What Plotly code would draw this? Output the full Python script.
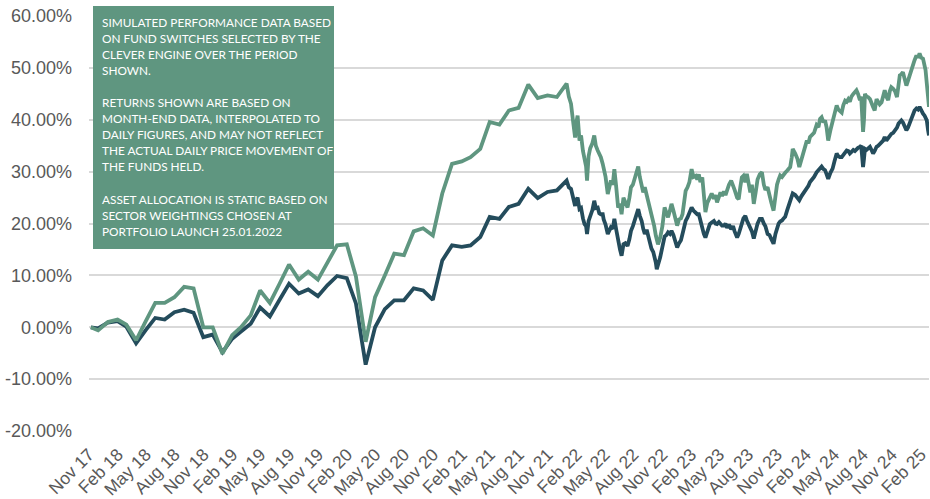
import pandas as pd
import plotly.graph_objects as go

# ---------------- data ----------------
start_date = "2017-11-07"
start_value = 0.0

# month-end values, Nov 2017 .. Dec 2021 (percent)
month_ends = pd.date_range("2017-11-30", "2021-12-31", freq="ME")
green_monthly = [
    -0.6, 1.0, 1.5, 0.5, -2.5, 1.1, 4.7, 4.7, 5.8, 7.8, 7.5, 0.0,
    0.0, -5.1, -1.5, 0.0, 2.3, 7.1, 4.7, 8.3, 12.1, 9.2, 10.7, 9.2,
    12.6, 15.8, 16.0, 9.8, -2.8, 5.8, 10.0, 14.2, 13.9, 18.5, 19.1, 17.7,
    25.8, 31.5, 32.0, 32.8, 34.4, 39.6, 39.1, 41.8, 42.3, 46.8, 44.2, 44.7,
    44.4, 47.0,
]
dark_monthly = [
    -0.2, 0.9, 1.2, 0.1, -3.1, -0.6, 1.8, 1.5, 2.9, 3.4, 2.8, -1.9,
    -1.4, -4.8, -2.2, -0.8, 0.7, 3.8, 2.1, 5.2, 8.4, 6.5, 7.3, 6.0,
    8.1, 9.9, 9.5, 4.6, -7.2, 0.0, 3.5, 5.2, 5.2, 7.5, 7.1, 5.3,
    12.9, 15.8, 15.5, 15.8, 17.4, 21.3, 20.9, 23.2, 23.8, 26.7, 24.9, 26.1,
    26.4, 28.3,
]

# daily-interpolated period: days after 2021-12-31
daily_base = "2021-12-31"
daily_days = [
    7, 14, 20, 27, 31, 35, 41, 46, 52, 57, 62, 65, 70, 75, 82, 88, 93, 99, 104, 109,
    115, 118, 124, 131, 136, 141, 147, 152, 158, 164, 170, 175, 181, 187, 194, 200, 205, 211, 217, 222,
    228, 233, 239, 244, 249, 255, 263, 270, 276, 279, 284, 287, 291, 298, 305, 312, 318, 323, 329, 334,
    340, 346, 352, 358, 364, 369, 374, 379, 385, 391, 398, 404, 411, 416, 421, 426, 432, 437, 442, 448,
    456, 462, 469, 474, 479, 485, 490, 495, 501, 506, 511, 517, 524, 530, 535, 543, 548, 553, 558, 563,
    569, 574, 580, 585, 590, 596, 602, 608, 615, 622, 628, 633, 640, 646, 652, 659, 665, 670, 675, 680,
    686, 691, 696, 702, 707, 712, 717, 720, 728, 735, 741, 748, 754, 760, 765, 770, 775, 780, 788, 796,
    802, 807, 812, 818, 823, 828, 833, 840, 847, 853, 860, 865, 870, 876, 881, 887, 892, 897, 902, 907,
    913, 918, 923, 928, 934, 938, 941, 944, 947, 950, 955, 960, 966, 971, 976, 981, 987, 992, 997, 1003,
    1008, 1013, 1018, 1024, 1029, 1034, 1040, 1046, 1052, 1057, 1061, 1066, 1071, 1076, 1082, 1087, 1092, 1098, 1103, 1108,
    1114, 1119, 1124, 1129, 1135, 1140, 1143, 1147, 1151, 1154,
]
green_daily = [
    44.5, 43.1, 40.0, 36.6, 39.5, 40.8, 36.0, 37.0, 34.0, 32.8, 31.0, 28.3, 33.0, 34.5, 35.5, 37.0, 35.0, 34.1, 33.5, 32.8,
    31.5, 30.8, 29.0, 25.7, 27.0, 28.3, 27.5, 30.5, 27.0, 23.1, 23.8, 21.8, 25.0, 24.0, 23.1, 25.0, 27.0, 27.5, 28.9, 30.0,
    31.0, 29.0, 27.5, 26.0, 27.0, 25.5, 23.1, 22.0, 20.5, 19.5, 17.7, 16.5, 16.0, 17.3, 19.5, 23.1, 22.0, 21.2, 22.5, 23.8,
    22.5, 21.0, 19.6, 20.8, 21.0, 21.8, 24.0, 26.3, 27.0, 28.0, 30.5, 29.0, 29.2, 28.5, 29.5, 28.0, 28.9, 25.0, 22.2, 24.0,
    25.0, 25.8, 24.8, 25.5, 24.1, 25.5, 26.0, 25.3, 26.2, 25.5, 26.7, 27.5, 28.3, 27.0, 26.5, 25.0, 24.7, 27.0, 28.9, 29.2,
    28.0, 29.6, 27.3, 26.0, 27.5, 23.8, 26.0, 28.5, 29.5, 29.9, 27.5, 26.5, 27.0, 25.0, 24.0, 22.5, 25.5, 27.5, 28.5, 29.3,
    29.0, 29.5, 29.8, 30.2, 30.5, 30.9, 32.8, 34.4, 33.5, 32.5, 30.9, 32.5, 33.8, 35.0, 36.0, 35.5, 36.7, 37.0, 37.5, 39.0,
    38.6, 40.2, 40.5, 39.5, 39.9, 38.5, 36.0, 38.0, 39.9, 41.0, 42.8, 42.0, 41.8, 41.4, 42.8, 43.7, 43.5, 44.0, 43.5, 44.5,
    45.0, 45.3, 45.7, 45.0, 43.8, 44.5, 41.0, 37.7, 40.0, 45.0, 44.5, 44.4, 44.0, 43.0, 42.5, 41.8, 44.0, 43.5, 43.0, 43.4,
    44.5, 45.7, 44.5, 43.8, 45.5, 46.3, 46.0, 45.5, 44.4, 46.5, 48.6, 48.8, 49.2, 48.0, 46.6, 47.5, 48.6, 49.5, 50.8, 51.5,
    52.4, 52.0, 52.8, 52.0, 51.8, 50.5, 49.6, 47.0, 43.1, 42.5,
]
dark_daily = [
    27.0, 26.7, 25.0, 23.4, 24.5, 25.0, 22.8, 23.0, 21.0, 19.9, 19.5, 18.0, 20.5, 21.2, 22.6, 24.4, 23.0, 23.1, 22.0, 21.8,
    21.8, 20.8, 19.8, 18.0, 18.8, 19.3, 19.0, 20.9, 18.8, 16.4, 15.0, 13.8, 16.0, 16.2, 15.7, 17.0, 18.6, 19.5, 20.9, 21.5,
    22.8, 21.5, 20.5, 19.0, 18.0, 18.8, 16.5, 15.2, 14.5, 13.9, 12.5, 11.2, 12.0, 13.5, 15.5, 17.5, 17.8, 18.3, 18.0, 18.6,
    17.8, 16.5, 15.4, 16.2, 16.8, 18.0, 19.5, 20.5, 21.2, 22.0, 23.1, 22.5, 22.0, 21.8, 21.8, 20.5, 19.5, 18.0, 17.3, 18.5,
    19.9, 20.2, 20.5, 20.0, 19.9, 20.3, 19.8, 19.6, 19.6, 20.0, 19.2, 19.8, 18.9, 19.5, 18.5, 17.3, 18.0, 19.3, 20.0, 21.0,
    21.5, 20.6, 19.9, 19.0, 18.5, 17.1, 18.8, 20.0, 20.9, 20.9, 20.0, 19.5, 18.0, 17.8, 17.0, 16.1, 18.0, 19.3, 20.0, 20.4,
    20.6, 21.0, 21.3, 22.5, 23.5, 24.1, 25.0, 25.8, 25.5, 24.8, 24.5, 25.3, 25.8, 26.5, 27.0, 27.3, 28.0, 28.3, 29.0, 29.9,
    30.3, 30.9, 31.0, 30.5, 30.3, 29.5, 28.6, 29.8, 30.6, 32.0, 33.5, 33.0, 32.8, 32.8, 33.3, 33.8, 34.1, 34.0, 33.5, 33.8,
    34.2, 34.0, 34.4, 34.6, 34.8, 35.0, 33.0, 30.9, 32.5, 34.4, 34.2, 34.6, 34.8, 34.2, 33.5, 34.0, 34.8, 35.0, 35.3, 35.7,
    36.0, 36.7, 36.0, 36.5, 37.0, 37.3, 37.5, 38.0, 38.5, 39.3, 39.6, 39.9, 39.5, 38.8, 38.0, 38.5, 39.3, 40.5, 41.5, 41.8,
    42.2, 42.0, 42.5, 41.8, 41.2, 40.8, 40.3, 39.9, 38.0, 37.0,
]

y_tick_values = [-20, -10, 0, 10, 20, 30, 40, 50, 60]
y_tick_labels = ["-20.00%", "-10.00%", "0.00%", "10.00%", "20.00%",
                 "30.00%", "40.00%", "50.00%", "60.00%"]

note_lines = [
    "SIMULATED PERFORMANCE DATA BASED",
    "ON FUND SWITCHES SELECTED BY THE",
    "CLEVER ENGINE OVER THE PERIOD",
    "SHOWN.",
    "",
    "RETURNS SHOWN ARE BASED ON",
    "MONTH-END DATA, INTERPOLATED TO",
    "DAILY FIGURES, AND MAY NOT REFLECT",
    "THE ACTUAL DAILY PRICE MOVEMENT OF",
    "THE FUNDS HELD.",
    "",
    "ASSET ALLOCATION IS STATIC BASED ON",
    "SECTOR WEIGHTINGS CHOSEN AT",
    "PORTFOLIO LAUNCH 25.01.2022",
]

# ---------------- build ----------------
GREEN = "#5F9680"
DARK = "#244C5C"

W, H = 930, 499
ML, MR, MT, MB = 89, 1, 16, 68

daily_dates = pd.Timestamp(daily_base) + pd.to_timedelta(daily_days, unit="D")
dates = [pd.Timestamp(start_date)] + list(month_ends) + list(daily_dates)
green = [start_value] + green_monthly + green_daily
dark = [start_value] + dark_monthly + dark_daily

fig = go.Figure()
fig.add_trace(go.Scatter(x=dates, y=dark, mode="lines",
                         line=dict(color=DARK, width=3.8), showlegend=False))
fig.add_trace(go.Scatter(x=dates, y=green, mode="lines",
                         line=dict(color=GREEN, width=3.8), showlegend=False))

# note box (screen px: x 93-334, y 6-249; plot area x 89-929, y 16-431)
def px_x(x):
    return (x - 89) / 840.0

def px_y(y):
    return (431 - y) / 415.0

fig.add_shape(type="rect", xref="paper", yref="paper",
              x0=px_x(93), x1=px_x(334), y0=px_y(249), y1=px_y(6),
              fillcolor=GREEN, line=dict(width=0), layer="above")
for i, line in enumerate(note_lines):
    if not line:
        continue
    fig.add_annotation(xref="paper", yref="paper",
                       x=px_x(100), y=px_y(22.5 + 16.05 * i),
                       xanchor="left", yanchor="middle", align="left",
                       showarrow=False, text=line,
                       font=dict(family="Lato", size=11.8, color="white"))

fig.update_layout(
    width=W, height=H,
    margin=dict(l=ML, r=MR, t=MT, b=MB, autoexpand=False),
    paper_bgcolor="white", plot_bgcolor="white",
    font=dict(family="Liberation Sans", color="#595959"),
)
fig.update_xaxes(
    type="date", automargin=False,
    range=["2017-11-01", dates[-1]],
    tick0="2017-11-01", dtick="M3", tickformat="%b %y",
    tickangle=-45, tickfont=dict(size=17.5, color="#595959"),
    showgrid=False, zeroline=False, showline=False,
    ticks="", ticklabelstandoff=9,
)
fig.update_yaxes(
    automargin=False,
    range=[-20, 60.03],
    tickvals=y_tick_values, ticktext=y_tick_labels,
    tickfont=dict(size=18, color="#595959"),
    showgrid=True, gridcolor="#D9D9D9", gridwidth=2,
    zeroline=True, zerolinecolor="#D9D9D9", zerolinewidth=2,
    showline=False, ticks="", ticklabelstandoff=16,
)

fig.write_html("out.html",
               config={"displayModeBar": False},
               post_script="document.body.style.margin='0px';")
